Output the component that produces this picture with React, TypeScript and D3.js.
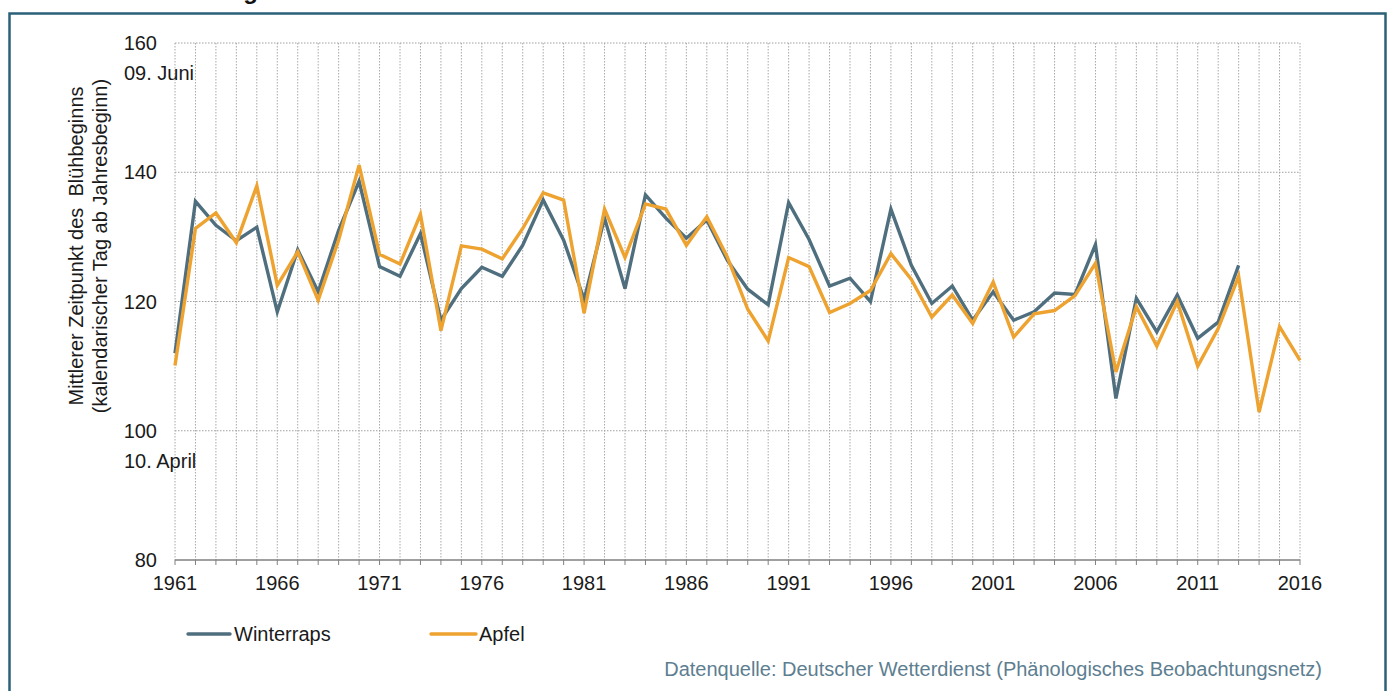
import React from "react";
import * as d3 from "d3";

const years: number[] = d3.range(1961, 2017);
const winterraps: (number | null)[] = [
  112, 135.5, 131.8, 129.4, 131.5, 118.4, 128.0, 121.5, 131, 138.6,
  125.4, 123.9, 130.5, 117.1, 122, 125.3, 123.9, 128.7, 135.7, 129.5,
  120.3, 132.9, 122, 136.5, 132.9, 129.8, 132.6, 126.4, 121.9, 119.5,
  135.3, 129.6, 122.4, 123.6, 120, 134.3, 125.6, 119.7, 122.4, 117.1,
  121.5, 117.1, 118.4, 121.3, 121.1, 128.8, 105, 120.5, 115.3, 121,
  114.3, 116.8, 125.6, null, null, null,
];
const apfel: number[] = [
  110.1, 131.3, 133.7, 129.1, 137.9, 122.5, 127.7, 120.2, 129.5, 141.1,
  127.3, 125.8, 133.5, 115.5, 128.6, 128.1, 126.6, 131.3, 136.8, 135.7,
  118.2, 134.3, 126.8, 135.1, 134.3, 128.7, 133.1, 126.9, 118.8, 113.9,
  126.8, 125.4, 118.3, 119.7, 121.7, 127.4, 123.4, 117.6, 121, 116.6,
  123, 114.5, 118.1, 118.6, 120.9, 125.9, 109.1, 119.2, 113.1, 120,
  110, 115.8, 123.9, 102.9, 116.1, 110.9,
];
const yTicks: number[] = [80, 100, 120, 140, 160];
const xTickLabels: number[] = [1961, 1966, 1971, 1976, 1981, 1986, 1991, 1996, 2001, 2006, 2011, 2016];
const seriesNames: string[] = ["Winterraps", "Apfel"];
const yAxisTitle: string[] = ["Mittlerer Zeitpunkt des  Blühbeginns", "(kalendarischer Tag ab Jahresbeginn)"];
const dateLabels: { value: number; label: string }[] = [
  { value: 160, label: "09. Juni" },
  { value: 100, label: "10. April" },
];
const sourceText = "Datenquelle: Deutscher Wetterdienst (Phänologisches Beobachtungsnetz)";

const FONT = "'Liberation Sans', Arial, Helvetica, sans-serif";
const COL_W = "#4f6f7f";
const COL_A = "#eea22f";
const FRAME = "#2a6178";
const TXT = "#1a1a1a";
const FS = 20;

export default function App() {
  const W = 1390;
  const H = 691;
  const x = d3.scaleLinear().domain([1961, 2016]).range([175, 1300]);
  const y = d3.scaleLinear().domain([80, 160]).range([560, 43]);

  const lineW = d3
    .line<[number, number | null]>()
    .defined((d) => d[1] != null)
    .x((d) => x(d[0]))
    .y((d) => y(d[1] as number));
  const lineA = d3
    .line<[number, number]>()
    .x((d) => x(d[0]))
    .y((d) => y(d[1]));

  const wData = years.map((yr, i) => [yr, winterraps[i]] as [number, number | null]);
  const aData = years.map((yr, i) => [yr, apfel[i]] as [number, number]);

  return (
    <svg
      width={W}
      height={H}
      style={{ position: "absolute", left: 0, top: 0, background: "#fff" }}
      fontFamily={FONT}
    >
      <rect x={0} y={0} width={W} height={H} fill="#fff" />
      {/* clipped title */}
      <text x={258} y={-1} textAnchor="end" fontSize={24} fontWeight="bold" fill="#111">
        Entwicklung
      </text>
      {/* frame */}
      <rect x={9.5} y={13.5} width={1376} height={700} fill="none" stroke={FRAME} strokeWidth={2.5} />

      {/* vertical grid */}
      {years.map((yr) => (
        <line
          key={"vg" + yr}
          x1={x(yr)}
          x2={x(yr)}
          y1={y(160)}
          y2={y(80)}
          stroke="#a8a8a8"
          strokeWidth={1}
          strokeDasharray="1.5,1.5"
        />
      ))}
      {/* horizontal grid */}
      {yTicks
        .filter((t) => t !== 80)
        .map((t) => (
          <line
            key={"hg" + t}
            x1={x(1961)}
            x2={x(2016)}
            y1={y(t)}
            y2={y(t)}
            stroke="#a0a0a0"
            strokeWidth={1}
            strokeDasharray="1.5,1.5"
          />
        ))}

      {/* x axis */}
      <line x1={x(1961)} x2={x(2016)} y1={y(80)} y2={y(80)} stroke="#808080" strokeWidth={1.5} />
      {years.map((yr) => (
        <line key={"xt" + yr} x1={x(yr)} x2={x(yr)} y1={y(80)} y2={y(80) + 5} stroke="#808080" strokeWidth={1} />
      ))}
      {xTickLabels.map((yr) => (
        <text key={"xl" + yr} x={x(yr)} y={y(80) + 30} textAnchor="middle" fontSize={FS} fill={TXT}>
          {yr}
        </text>
      ))}

      {/* y tick labels */}
      {yTicks.map((t) => (
        <text key={"yl" + t} x={157} y={y(t) + 7} textAnchor="end" fontSize={FS} fill={TXT}>
          {t}
        </text>
      ))}
      {dateLabels.map((d) => (
        <text key={d.label} x={124} y={y(d.value) + 37} textAnchor="start" fontSize={FS} fill={TXT}>
          {d.label}
        </text>
      ))}

      {/* y axis title */}
      <g transform="translate(83,246) rotate(-90)">
        <text x={0} y={0} textAnchor="middle" fontSize={FS} fill={TXT}>
          <tspan x={0} dy={0} style={{ whiteSpace: "pre" }}>{yAxisTitle[0]}</tspan>
          <tspan x={0} dy={24}>{yAxisTitle[1]}</tspan>
        </text>
      </g>

      {/* lines */}
      <path d={lineW(wData) || ""} fill="none" stroke={COL_W} strokeWidth={3.4} strokeLinejoin="miter" />
      <path d={lineA(aData) || ""} fill="none" stroke={COL_A} strokeWidth={3.4} strokeLinejoin="miter" />

      {/* legend */}
      <line x1={188} x2={230} y1={634} y2={634} stroke={COL_W} strokeWidth={3.4} strokeLinecap="round" />
      <text x={234} y={641} fontSize={FS} fill={TXT}>{seriesNames[0]}</text>
      <line x1={431} x2={476} y1={634} y2={634} stroke={COL_A} strokeWidth={3.4} strokeLinecap="round" />
      <text x={479} y={641} fontSize={FS} fill={TXT}>{seriesNames[1]}</text>

      {/* source */}
      <text x={1322} y={676} textAnchor="end" fontSize={FS} fill="#5d7e90">
        {sourceText}
      </text>
    </svg>
  );
}
